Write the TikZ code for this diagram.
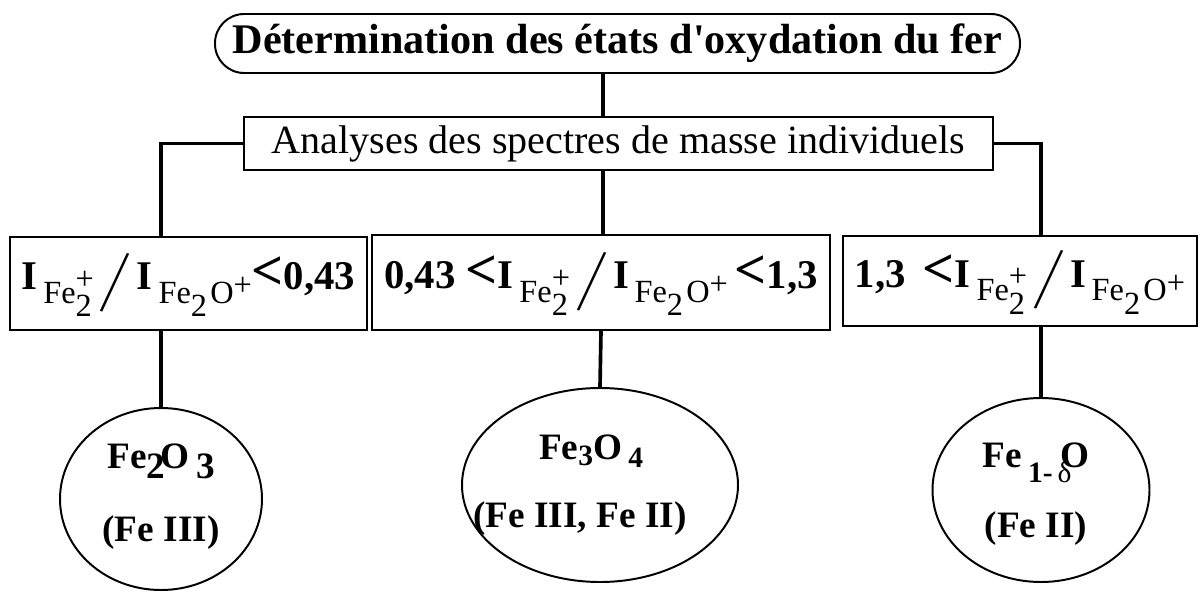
\documentclass[tikz,border=0pt]{standalone}
\usepackage{fontspec}
\setmainfont{Liberation Serif}
\newfontfamily\plainquote{Liberation Serif}[Ligatures=TeXOff]
\usepackage{graphicx}
\usetikzlibrary{shapes.geometric, positioning, calc}

% --- Ratio pieces ---
\newcommand{\bigsl}{\raisebox{-0.5em}{\rotatebox{-14}{\scalebox{1.3}[2.3]{/}}}}
\newcommand{\Iof}[1]{\textbf{I}\kern0.14em\raisebox{-0.32em}{\fontsize{23}{23}\selectfont #1}}
\newcommand{\FeIon}{Fe\rlap{\raisebox{-0.42em}{2}}\raisebox{0.42em}{+}}
\newcommand{\FeOIon}{Fe\raisebox{-0.42em}{2}\kern0.1em O\raisebox{0.22em}{+}}
\newcommand{\ltb}{{\fontsize{40}{40}\selectfont\textbf{<}}}

\begin{document}
\begin{tikzpicture}[
	x=0.25mm, y=-0.25mm,
	% --- Styles ---
	titlebox/.style={
		rectangle, draw, line width=1.4pt, rounded corners=7.3mm,
		minimum width=201.25mm, minimum height=14.75mm, inner sep=0pt,
		font=\fontsize{30}{32}\selectfont\bfseries
	},
	anabox/.style={
		rectangle, draw, line width=1.4pt,
		minimum width=187.25mm, minimum height=13.25mm, inner sep=0pt,
		font=\fontsize{28.5}{30}\selectfont
	},
	ratiobox/.style={
		rectangle, draw, line width=1.4pt, minimum height=23.25mm, inner sep=0pt,
		font=\fontsize{29}{32}\selectfont
	},
	phase/.style={
		ellipse, draw, line width=1.4pt, inner sep=0pt
	},
	phasetext/.style={
		align=center, inner sep=0pt, font=\fontsize{26.5}{32}\selectfont\bfseries
	},
	link/.style={
		draw, line width=2.6pt
	}
	]
	\useasboundingbox (0,0) rectangle (1200,592);
	
	% --- 1. Title and analysis ---
	\node [titlebox] (title) at (617.5,43.5) {Détermination des états d{\plainquote '}oxydation du fer};
	\node [anabox] (ana) at (618.5,143.5) {Analyses des spectres de masse individuels};
	
	% --- 2. Ratio boxes ---
	\node [ratiobox, minimum width=89.25mm] (rlow) at (188.5,283.5)
		{\Iof{\FeIon}\,\bigsl\,\Iof{\FeOIon}\ltb\textbf{0,43}};
	\node [ratiobox, minimum width=114.5mm, minimum height=23.75mm] (rmid) at (601,282.5)
		{\textbf{0,43 }\ltb\Iof{\FeIon}\,\bigsl\,\Iof{\FeOIon}\,\ltb\textbf{1,3}};
	\node [ratiobox, minimum width=88.5mm, minimum height=22.5mm] (rhigh) at (1020,281)
		{\textbf{1,3 }\,\ltb\Iof{\FeIon}\,\bigsl\,\Iof{\FeOIon}};
	
	% --- 3. Oxides ---
	\node [phase, minimum width=50.5mm, minimum height=45.5mm] (hema) at (161,499) {};
	\node [phase, minimum width=69mm, minimum height=48.5mm] (magn) at (600,485) {};
	\node [phase, minimum width=54.25mm, minimum height=46mm] (wust) at (1041,490) {};
	
	\node [phasetext] (hematxt) at ($(hema)+(0,-2)$)
		{Fe\raisebox{-0.25em}{2}\kern-0.12em O\,\raisebox{-0.25em}{3}\\[20pt](Fe III)};
	\node [phasetext] (magntxt) at ($(magn)+(-20,0)$)
		{\kern0.6em Fe\raisebox{-0.15em}{\fontsize{21}{21}\selectfont 3}O\,\raisebox{-0.2em}{\fontsize{21}{21}\selectfont 4}\\[16pt](Fe III, Fe II)};
	\node [phasetext] (wusttxt) at ($(wust)+(-5,4)$)
		{Fe\,\raisebox{-0.4em}{\fontsize{21}{21}\selectfont 1-\,\mdseries δ}\kern-0.3em O\\[18pt](Fe II)};
	
	% --- 4. Connections ---
	\coordinate (spine) at (603,0);
	\draw [link] (title.south -| spine) -- (ana.north -| spine);
	\draw [link] (ana.south -| spine) -- (rmid.north -| spine);
	\draw [link] (ana.west) -| (hema.north |- rlow.north);
	\draw [link] (ana.east) -| (wust.north |- rhigh.north);
	
	% lower links
	\draw [link] (rlow.south -| hema.north) -- (hema.north);
	\draw [link] (rmid.south) -- (magn.north);
	\draw [link] (rhigh.south -| wust.north) -- (wust.north);
	
\end{tikzpicture}
\end{document}
